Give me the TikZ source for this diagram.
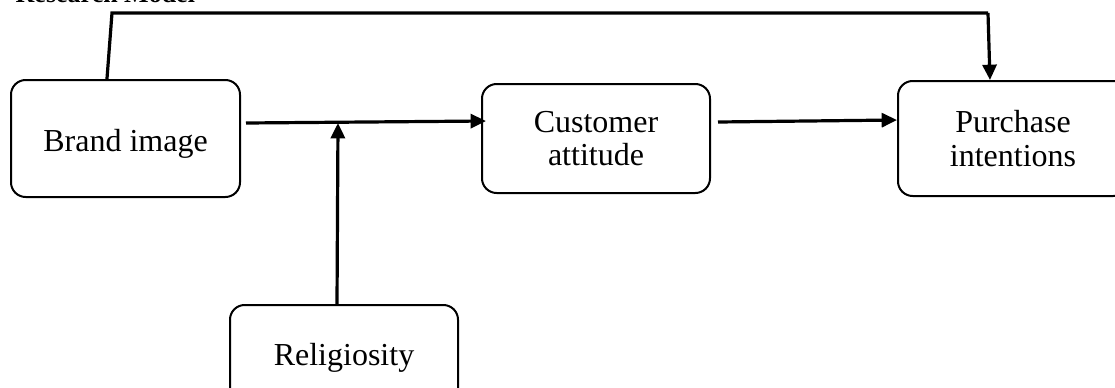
\documentclass[tikz,border=0pt]{standalone}
\usepackage{fontspec}
\setmainfont{Liberation Serif}
\usetikzlibrary{arrows.meta,calc}
\begin{document}
\begin{tikzpicture}[x=0.75pt,y=-0.75pt,
  box/.style={draw,line width=1.5pt,rounded corners=11pt,align=center,
    font=\fontsize{24}{25}\selectfont,inner sep=0pt},
  conn/.style={line width=2.4pt},
  arr/.style={conn,-{Triangle[length=11.5pt,width=10.5pt]}}]
\useasboundingbox (0,0) rectangle (1115,387);
\node[anchor=base west,font=\fontsize{19.5}{20}\selectfont\bfseries] (title) at (11,2) {Research Model};
\node[box,minimum width=171.75pt,minimum height=87.75pt,text height=24pt,text depth=5pt] (brand) at (125.5,138.5) {Brand image};
\node[box,minimum width=171pt,minimum height=81.75pt] (cust) at (596,138.5) {Customer\\attitude};
\node[box,minimum width=172.5pt,minimum height=86.25pt] (purch) at (1013,138.5) {Purchase\\intentions};
\node[box,minimum width=171pt,minimum height=78.75pt] (relig) at (344,357.5) {Religiosity};
\coordinate (c1) at (112,13);
\coordinate (c2) at (988,13);
\coordinate (join) at (338,123);
\draw[conn] ([xshift=-13.9pt]brand.north) -- (c1) -- (c2);
\draw[arr] (c2) -- ([xshift=-17.25pt]purch.north);
\draw[arr] ($(brand.east)+(5,-15.5)$) -- ($(cust.west)+(5,-17.5)$);
\draw[arr] ([xshift=-5.25pt]relig.north) -- (join);
\draw[arr] ($(cust.east)+(7,-16.5)$) -- ($(purch.west)+(0,-18.5)$);
\end{tikzpicture}
\end{document}
